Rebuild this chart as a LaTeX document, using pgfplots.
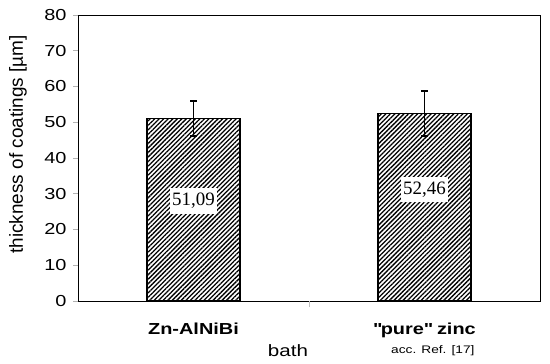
\documentclass[border=0pt]{standalone}
\usepackage{fontspec}
\setmainfont{Liberation Sans}
\newfontfamily\wide{Liberation Sans}[FakeStretch=1.25]
\newfontfamily\serif{Liberation Serif}
\usepackage{pgfplots}
\pgfplotsset{compat=1.18}
\usetikzlibrary{patterns.meta}

\begin{document}
\begin{tikzpicture}
\begin{axis}[
    scale only axis,
    width=462bp, height=286bp,
    xmin=0, xmax=2,
    ymin=0, ymax=80,
    ytick={0,10,...,80},
    xtick={0.5,1.5},
    xticklabels={\textbf{Zn-AlNiBi},\textbf{\textquotedbl pure\textquotedbl\ zinc}},
    xtick pos=bottom, ytick pos=left,
    major x tick style={draw=none},
    extra x ticks={1},
    extra x tick labels={},
    extra x tick style={tick align=outside, major tick length=6bp,
        major x tick style={draw=black!25, line width=1pt}},
    y tick style={draw=black!30, line width=0.8pt},
    ytick align=outside, major tick length=5bp,
    axis line style={line width=0.9pt},
    tick label style={font=\wide\fontsize{16}{19}\selectfont},
    yticklabel style={xshift=-3bp},
    xticklabel style={yshift=-18bp},
    /pgf/number format/assume math mode=true,
    clip=false,
]
\addplot[ybar, bar width=93bp, draw=black, line width=1.3pt,
    pattern={Lines[angle=45, distance=3.2bp, line width=1.3bp]},
    error bars/.cd, y dir=both, y explicit,
    error bar style={line width=1.8pt, black},
    error mark options={rotate=90, mark size=3.5bp, line width=1.8pt}]
coordinates {
    (0.5,51.09) +- (0,4.9)
    (1.5,52.46) +- (0,6.3)
};
\node[fill=white, inner xsep=2.5bp, inner ysep=5bp, font=\serif\fontsize{19}{22}\selectfont] at (axis cs:0.5,28) {51,09};
\node[fill=white, inner xsep=2.5bp, inner ysep=5bp, font=\serif\fontsize{19}{22}\selectfont] at (axis cs:1.5,31.2) {52,46};
\node[font=\wide\fontsize{16.5}{19}\selectfont] at (rel axis cs:0.4545,-0.175) {bath};
\node[font=\wide\fontsize{11}{13}\selectfont] at (rel axis cs:0.768,-0.175) {acc. Ref. [17]};
\node[rotate=90, font=\fontsize{19}{22}\selectfont] at (rel axis cs:-0.13,0.547) {thickness of coatings [µm]};
\end{axis}
\pgfresetboundingbox
\path (-78bp,-63bp) rectangle (472bp,301bp);
\end{tikzpicture}
\end{document}
